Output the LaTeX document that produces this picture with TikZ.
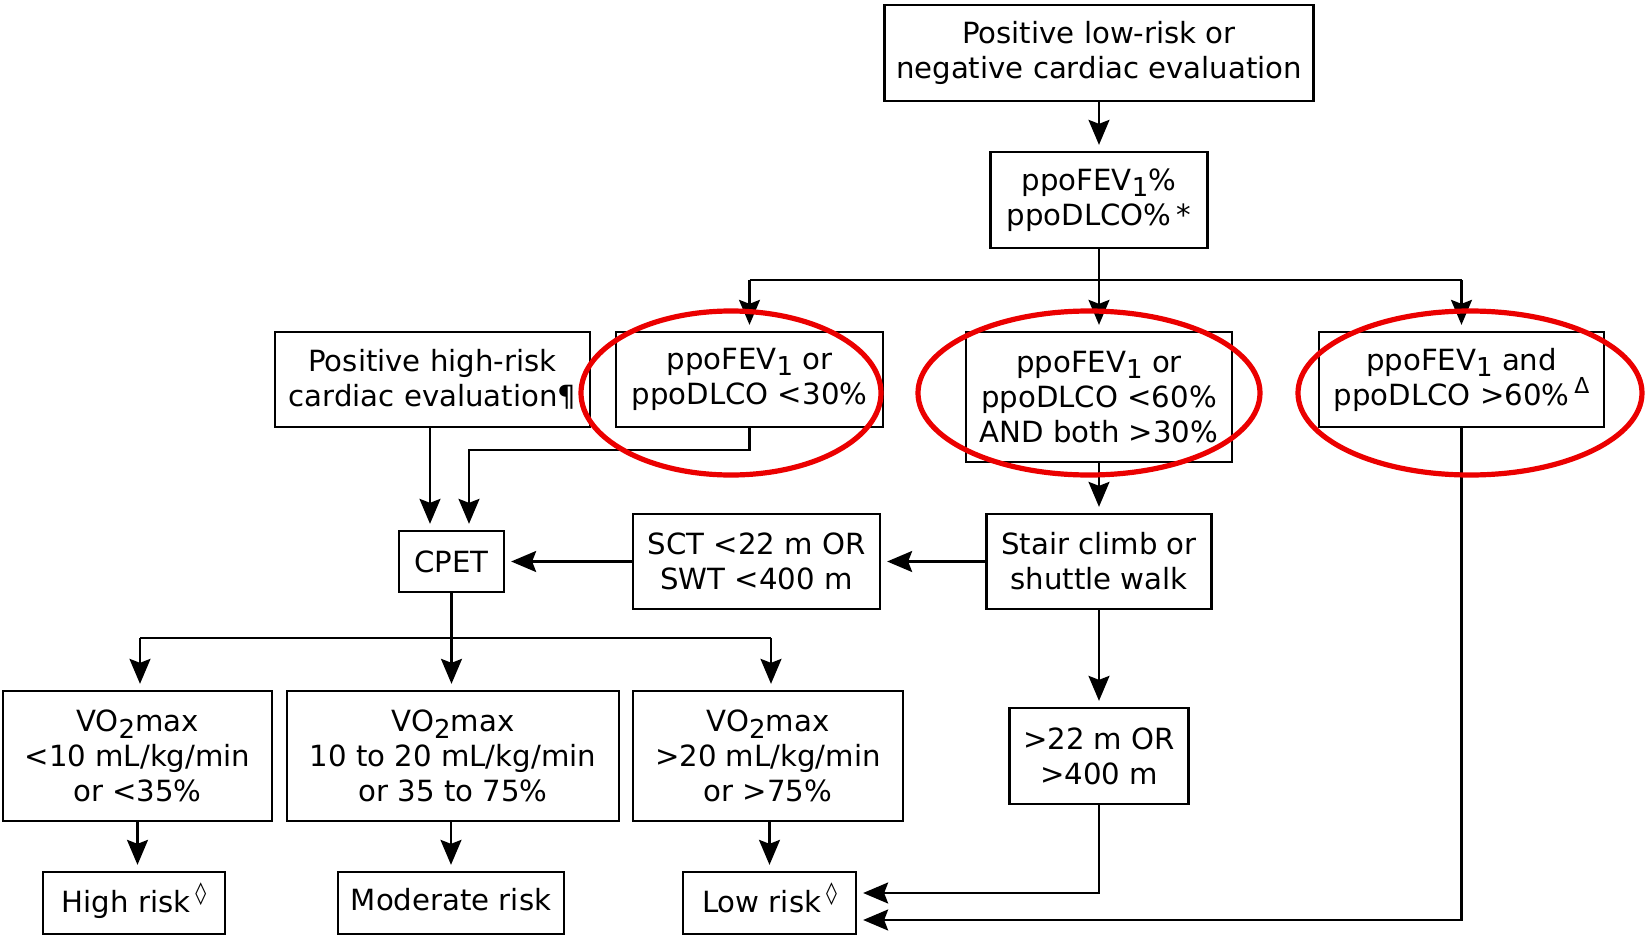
\documentclass[tikz,border=0pt]{standalone}
\usepackage{fontspec}
\setmainfont{DejaVu Sans}
\usetikzlibrary{arrows.meta}
\newcommand\lowsub[1]{\raisebox{-0.4ex}{\fontsize{13}{13}\selectfont #1}}
\newcommand\highsup[1]{\,\raisebox{0.75ex}{\fontsize{11}{11}\selectfont #1}}

\begin{document}
\begin{tikzpicture}[x=0.5pt,y=-0.5pt,
  box/.style={draw=black, line width=1.15pt, align=center, inner sep=0pt,
    font=\fontsize{14.6}{17.5}\selectfont},
  sz/.style 2 args={minimum width=#1*0.5pt, minimum height=#2*0.5pt},
  link/.style={line width=1.1pt},
  arr/.style={line width=1.1pt, -{Stealth[length=12.5pt,width=10.5pt,inset=2pt]}, shorten >=3pt},
  ring/.style={draw=red!92!black, line width=2.6pt}]

\useasboundingbox[fill=white] (0,0) rectangle (1646,937);

% boxes
\node[box, sz={429}{96}] (top) at (1099,53) {Positive low-risk or\\negative cardiac evaluation};
\node[box, sz={217}{96}] (ppo) at (1099,200) {ppoFEV\lowsub{1}\%\\ppoDLCO\%\,*};
\node[box, sz={315}{95}] (hr) at (432.5,379.5) {Positive high-risk\\cardiac evaluation¶};
\node[box, sz={267}{95}] (lt) at (749.5,379.5) {ppoFEV\lowsub{1} or\\ppoDLCO <30\%};
\node[box, sz={266}{130}] (mid) at (1099,397) {ppoFEV\lowsub{1} or\\ppoDLCO <60\%\\AND both >30\%};
\node[box, sz={285}{95}] (gt) at (1461.5,379.5) {ppoFEV\lowsub{1} and\\ppoDLCO >60\%\highsup{Δ}};
\node[box, sz={105}{61}] (cpet) at (451.5,561.5) {CPET};
\node[box, sz={247}{95}] (sct) at (756.5,561.5) {SCT <22 m OR\\SWT <400 m};
\node[box, sz={225}{95}] (stair) at (1099,561.5) {Stair climb or\\shuttle walk};
\node[box, sz={179}{96}] (far) at (1099,756) {>22 m OR\\>400 m};
\node[box, sz={269}{130}] (vo1) at (137.5,756) {VO\lowsub{2}max\\<10 mL/kg/min\\or <35\%};
\node[box, sz={332}{130}] (vo2) at (453,756) {VO\lowsub{2}max\\10 to 20 mL/kg/min\\or 35 to 75\%};
\node[box, sz={270}{130}] (vo3) at (768,756) {VO\lowsub{2}max\\>20 mL/kg/min\\or >75\%};
\node[box, sz={182}{62}] (high) at (134,903) {\strut High risk\highsup{\bfseries ◊}};
\node[box, sz={226}{62}] (mod) at (451,903) {\strut Moderate risk};
\node[box, sz={173}{62}] (low) at (769.5,903) {\strut Low risk\highsup{\bfseries ◊}};

% junction points
\coordinate (fork) at (1099,280);
\coordinate (forkL) at (749.5,280);
\coordinate (forkR) at (1461.5,280);
\coordinate (hrx) at (430,0);
\coordinate (bend) at (469,450);
\coordinate (split) at (451.5,638);
\coordinate (splitL) at (140,638);
\coordinate (splitR) at (771,638);
\coordinate (inA) at (0,893);
\coordinate (inB) at (0,920);

% connectors
\draw[arr] (top) -- (ppo);
\draw[link] (ppo.south) -- (fork);
\draw[link] (forkL) -- (forkR);
\draw[arr] (forkL) -- (lt.north);
\draw[arr] (fork) -- (mid.north);
\draw[arr] (forkR) -- (gt.north);
\draw[arr] (hr.south -| hrx) -- (cpet.north -| hrx);
\draw[arr] (lt.south) |- (bend) -- (bend |- cpet.north);
\draw[arr] (mid) -- (stair);
\draw[arr] (stair) -- (sct);
\draw[arr] (sct) -- (cpet);
\draw[arr] (stair) -- (far);
\draw[link] (cpet.south) -- (split);
\draw[link] (splitL) -- (splitR);
\draw[arr] (splitL) -- (splitL |- vo1.north);
\draw[arr] (split) -- (split |- vo2.north);
\draw[arr] (splitR) -- (splitR |- vo3.north);
\draw[arr] (vo1) -- (vo1 |- high.north);
\draw[arr] (vo2.south -| mod) -- (mod);
\draw[arr] (vo3.south -| low) -- (low);
\draw[arr] (far.south) |- (low.east |- inA);
\draw[arr] (gt.south) |- (low.east |- inB);

% red highlight rings
\draw[ring] (731,393) ellipse [x radius=75pt, y radius=41pt];
\draw[ring] (1089,393) ellipse [x radius=85.5pt, y radius=41pt];
\draw[ring] (1470,393) ellipse [x radius=86pt, y radius=41pt];
\end{tikzpicture}
\end{document}
